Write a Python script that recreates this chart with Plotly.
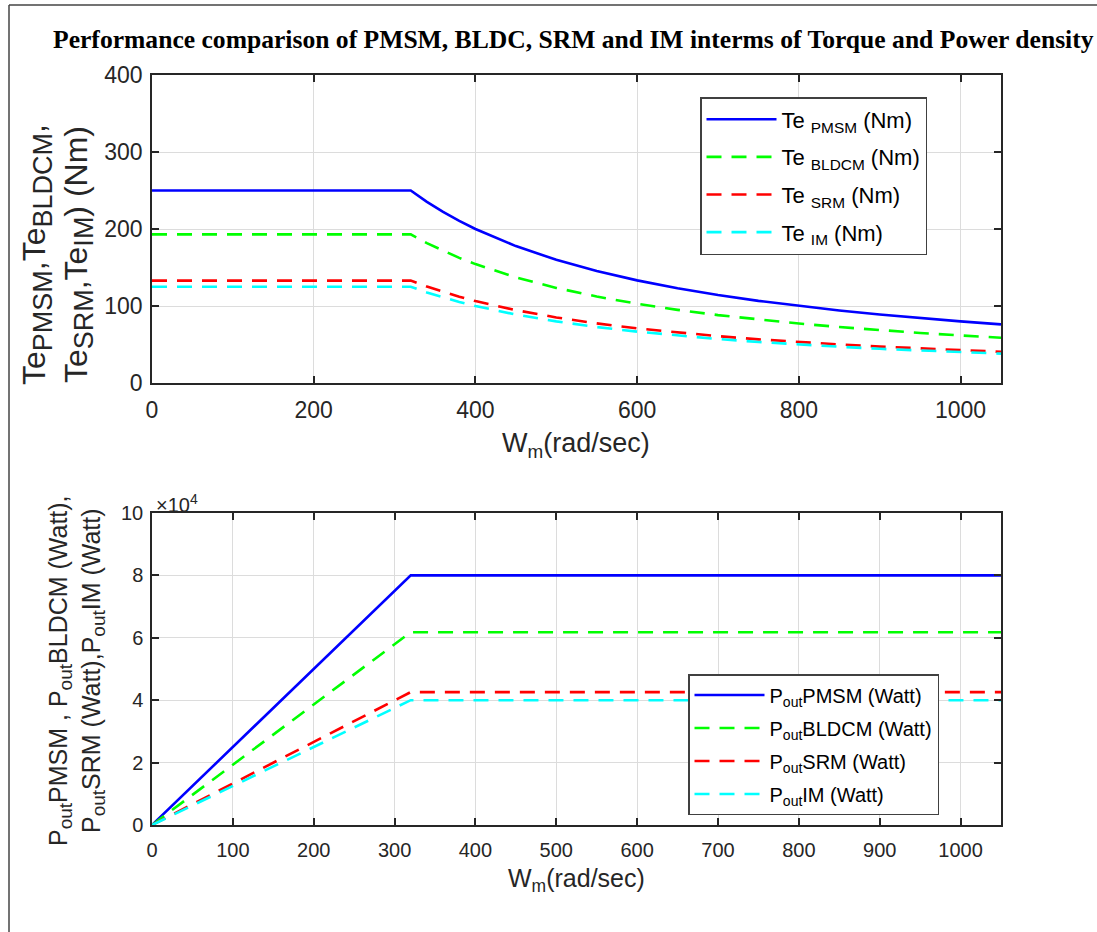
import plotly.graph_objects as go

W, H = 1097, 932

# ---------- data ----------
w_torque = [0, 320, 340, 360, 380, 400, 450, 500, 550, 600, 650, 700, 750, 800, 850, 900, 950, 1000, 1050]
te_pmsm = [250, 250, 235.3, 222.2, 210.5, 200, 177.8, 160, 145.5, 133.3, 123.1, 114.3, 106.7, 100, 94.1, 88.9, 84.2, 80, 76.2]
te_bldcm = [193, 193, 181.6, 171.6, 162.5, 154.4, 137.2, 123.5, 112.3, 102.9, 95.0, 88.2, 82.3, 77.2, 72.7, 68.6, 65.0, 61.8, 58.8]
te_srm = [133, 133, 125.2, 118.2, 112.0, 106.4, 94.6, 85.1, 77.4, 70.9, 65.5, 60.8, 56.7, 53.2, 50.1, 47.3, 44.8, 42.6, 40.5]
te_im = [125, 125, 117.6, 111.1, 105.3, 100, 88.9, 80, 72.7, 66.7, 61.5, 57.1, 53.3, 50, 47.1, 44.4, 42.1, 40, 38.1]

w_power = [0, 320, 1050]
p_pmsm = [0, 80000, 80000]
p_bldcm = [0, 61800, 61800]
p_srm = [0, 42600, 42600]
p_im = [0, 40000, 40000]

top_names = ["Te <sub>PMSM</sub> (Nm)", "Te <sub>BLDCM</sub> (Nm)", "Te <sub>SRM</sub> (Nm)", "Te <sub>IM</sub> (Nm)"]
bot_names = ["P<sub>out</sub>PMSM (Watt)", "P<sub>out</sub>BLDCM (Watt)", "P<sub>out</sub>SRM (Watt)", "P<sub>out</sub>IM (Watt)"]
colors = ["#0000FF", "#00FF00", "#FF0000", "#00FFFF"]
dashes = ["solid", "15px,10px", "15px,10px", "15px,10px"]

top_xticks = [0, 200, 400, 600, 800, 1000]
top_yticks = [0, 100, 200, 300, 400]
bot_xticks = [0, 100, 200, 300, 400, 500, 600, 700, 800, 900, 1000]
bot_yticks = [0, 20000, 40000, 60000, 80000, 100000]
bot_yticktext = ["0", "2", "4", "6", "8", "10"]

# ---------- helpers ----------
def px_x(p):
    return p / W

def px_y(p):
    return 1 - p / H

SANS = "Liberation Sans, Arial"
AX = "#262626"
GRID = "#DCDCDC"

fig = go.Figure()

for i, (name, y, c, d) in enumerate(zip(top_names, [te_pmsm, te_bldcm, te_srm, te_im], colors, dashes)):
    fig.add_trace(go.Scatter(x=w_torque, y=y, mode="lines", name=name,
                             line=dict(color=c, width=2.6, dash=d), legendgroup=f"t{i}",
                             xaxis="x", yaxis="y", legend="legend"))

for i, (name, y, c, d) in enumerate(zip(bot_names, [p_pmsm, p_bldcm, p_srm, p_im], colors, dashes)):
    fig.add_trace(go.Scatter(x=w_power, y=y, mode="lines", name=name,
                             line=dict(color=c, width=2.6, dash=d), legendgroup=f"b{i}",
                             xaxis="x2", yaxis="y2", legend="legend2"))

xdom = [px_x(152), px_x(1001)]


def axis(size, **kw):
    d = dict(showline=True, linecolor=AX, linewidth=1.5, mirror="ticks",
             ticks="inside", ticklen=7, tickcolor=AX, tickwidth=1.5,
             showgrid=True, gridcolor=GRID, gridwidth=1, zeroline=False,
             automargin=False,
             tickfont=dict(family=SANS, color=AX, size=size))
    d.update(kw)
    return d


fig.update_layout(
    width=W, height=H,
    margin=dict(l=0, r=0, t=0, b=0, pad=0),
    paper_bgcolor="white", plot_bgcolor="white",
    xaxis=axis(23, domain=xdom, anchor="y", range=[0, 1050], tickvals=top_xticks, ticklabelstandoff=6),
    yaxis=axis(23, domain=[px_y(383), px_y(75)], anchor="x", range=[0, 400], tickvals=top_yticks,
               ticklabelstandoff=3),
    xaxis2=axis(20, domain=xdom, anchor="y2", range=[0, 1050], tickvals=bot_xticks, ticklabelstandoff=6),
    yaxis2=axis(20, domain=[px_y(825), px_y(513)], anchor="x2", range=[0, 100000], tickvals=bot_yticks,
                ticktext=bot_yticktext, ticklabelstandoff=3),
    legend=dict(x=px_x(700), y=px_y(97), xanchor="left", yanchor="top",
                bgcolor="white", bordercolor="#404040", borderwidth=1.5,
                font=dict(family=SANS, size=22, color="black"),
                itemwidth=70, tracegroupgap=6),
    legend2=dict(x=px_x(688), y=px_y(674), xanchor="left", yanchor="top",
                 bgcolor="white", bordercolor="#404040", borderwidth=1.5,
                 font=dict(family=SANS, size=20, color="black"),
                 itemwidth=70, tracegroupgap=4),
    showlegend=True,
)

SUB_T = "<sub><span style='font-size:27px'>{}</span></sub>"
SUB_B = "<sub><span style='font-size:19px'>{}</span></sub>"

ann = []
# title
ann.append(dict(x=px_x(573), y=px_y(40), xref="paper", yref="paper", showarrow=False,
                text="<b>Performance comparison of PMSM, BLDC, SRM and IM interms of Torque and Power density</b>",
                font=dict(family="Liberation Serif, Times New Roman", size=25.6, color="black"),
                xanchor="center", yanchor="middle"))
# axis titles
ann.append(dict(x=px_x(576), y=px_y(445), xref="paper", yref="paper", showarrow=False,
                text="W<sub>m</sub>(rad/sec)", font=dict(family=SANS, size=27, color=AX),
                xanchor="center", yanchor="middle"))
ann.append(dict(x=px_x(576), y=px_y(880), xref="paper", yref="paper", showarrow=False,
                text="W<sub>m</sub>(rad/sec)", font=dict(family=SANS, size=25, color=AX),
                xanchor="center", yanchor="middle"))
ann.append(dict(x=px_x(58), y=px_y(255), xref="paper", yref="paper", showarrow=False, textangle=-90,
                text=("Te" + SUB_T.format("PMSM") + ",Te" + SUB_T.format("BLDCM") + ",<br>"
                      + "Te" + SUB_T.format("SRM") + ",Te" + SUB_T.format("IM") + ") (Nm)"),
                font=dict(family=SANS, size=32, color=AX),
                xanchor="center", yanchor="middle"))
ann.append(dict(x=px_x(76), y=px_y(671), xref="paper", yref="paper", showarrow=False, textangle=-90,
                text=("P" + SUB_B.format("out") + "PMSM , P" + SUB_B.format("out") + "BLDCM (Watt),<br>"
                      + "P" + SUB_B.format("out") + "SRM (Watt),P" + SUB_B.format("out") + "IM (Watt)"),
                font=dict(family=SANS, size=25, color=AX),
                xanchor="center", yanchor="middle"))
# exponent label
ann.append(dict(x=px_x(154), y=px_y(503), xref="paper", yref="paper", showarrow=False,
                text="\u00d710<sup>4</sup>", font=dict(family=SANS, size=20, color=AX),
                xanchor="left", yanchor="middle"))
fig.update_layout(annotations=ann)

# figure frame (left and top edges)
fig.add_shape(type="line", xref="paper", yref="paper", x0=px_x(9), x1=px_x(9), y0=0, y1=px_y(5),
              line=dict(color="#444444", width=1.5))
fig.add_shape(type="line", xref="paper", yref="paper", x0=px_x(9), x1=1, y0=px_y(5), y1=px_y(5),
              line=dict(color="#444444", width=1.5))

fig.write_html("out.html",
               config={"displayModeBar": False},
               post_script="document.body.style.margin='0px';document.body.style.overflow='hidden';")
